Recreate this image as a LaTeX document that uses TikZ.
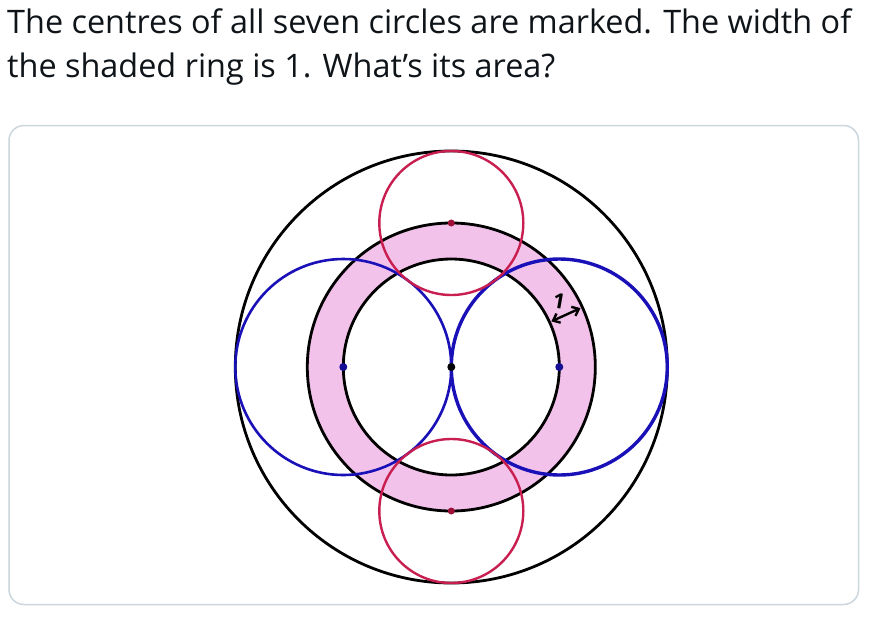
\documentclass[tikz,border=0pt]{standalone}
\usepackage{fontspec}
\setmainfont{Open Sans}
\usetikzlibrary{arrows.meta}
\definecolor{txt}{HTML}{0F1419}
\definecolor{frame}{HTML}{CCD6DD}
\definecolor{ringpink}{HTML}{F3C2EA}
\definecolor{cblue}{HTML}{1A10B8}
\definecolor{cred}{HTML}{C81E50}
\definecolor{dotred}{HTML}{9E1038}
\tikzset{
  blackc/.style={draw=black, line width=2.8pt},
  bluec/.style={draw=cblue, line width=2.6pt},
  redc/.style={draw=cred, line width=2.4pt},
  cdot/.style={circle, inner sep=0pt, minimum size=8pt},
  headline/.style={anchor=base west, inner sep=0pt, text=txt, font=\fontsize{32.4}{38}\selectfont},
}
\begin{document}
\begin{tikzpicture}[x=1pt,y=1pt]
\useasboundingbox (0,0) rectangle (874,-616);
\fill[white] (0,0) rectangle (874,-616);
\node[headline] (l1) at (7,-33.3) {The centres of all seven circles are marked. The width of};
\node[headline] (l2) at (7,-77.5) {the shaded ring is 1. What’s its area?};
\draw[frame, line width=1.5pt, rounded corners=15pt] (9,-125.5) rectangle (858.5,-604.5);
\coordinate (c) at (451.3,-367);
\coordinate (bl) at (343.3,-367);
\coordinate (br) at (559.3,-367);
\coordinate (rt) at (451.3,-223);
\coordinate (rb) at (451.3,-511);
% shaded ring
\fill[ringpink, even odd rule] (c) circle (144) (c) circle (108);
% black circles
\draw[blackc] (c) circle (216);
\draw[blackc] (c) circle (144);
\draw[blackc] (c) circle (108);
% blue circles
\draw[bluec] (bl) circle (108);
\draw[bluec, line width=3.4pt] (br) circle (108);
% red circles
\draw[redc] (rt) circle (72);
\draw[redc] (rb) circle (72);
% centres
\node[cdot, fill=black] (dc) at (c) {};
\node[cdot, fill=cblue!80!black] (dbl) at (bl) {};
\node[cdot, fill=cblue!80!black] (dbr) at (br) {};
\node[cdot, fill=dotred, minimum size=7pt] (drt) at (rt) {};
\node[cdot, fill=dotred, minimum size=7pt] (drb) at (rb) {};
% width marker
\coordinate (a1) at ([shift={(24.5:110)}]c);
\coordinate (a2) at ([shift={(24.5:142)}]c);
\draw[line width=2.4pt, {Straight Barb[length=6pt,width=10pt]}-{Straight Barb[length=6pt,width=10pt]}] (a1) -- (a2);
\node[font=\fontsize{21}{21}\selectfont\bfseries, rotate=-10, inner sep=0pt] (one) at (559,-301) {1};
\end{tikzpicture}
\end{document}
